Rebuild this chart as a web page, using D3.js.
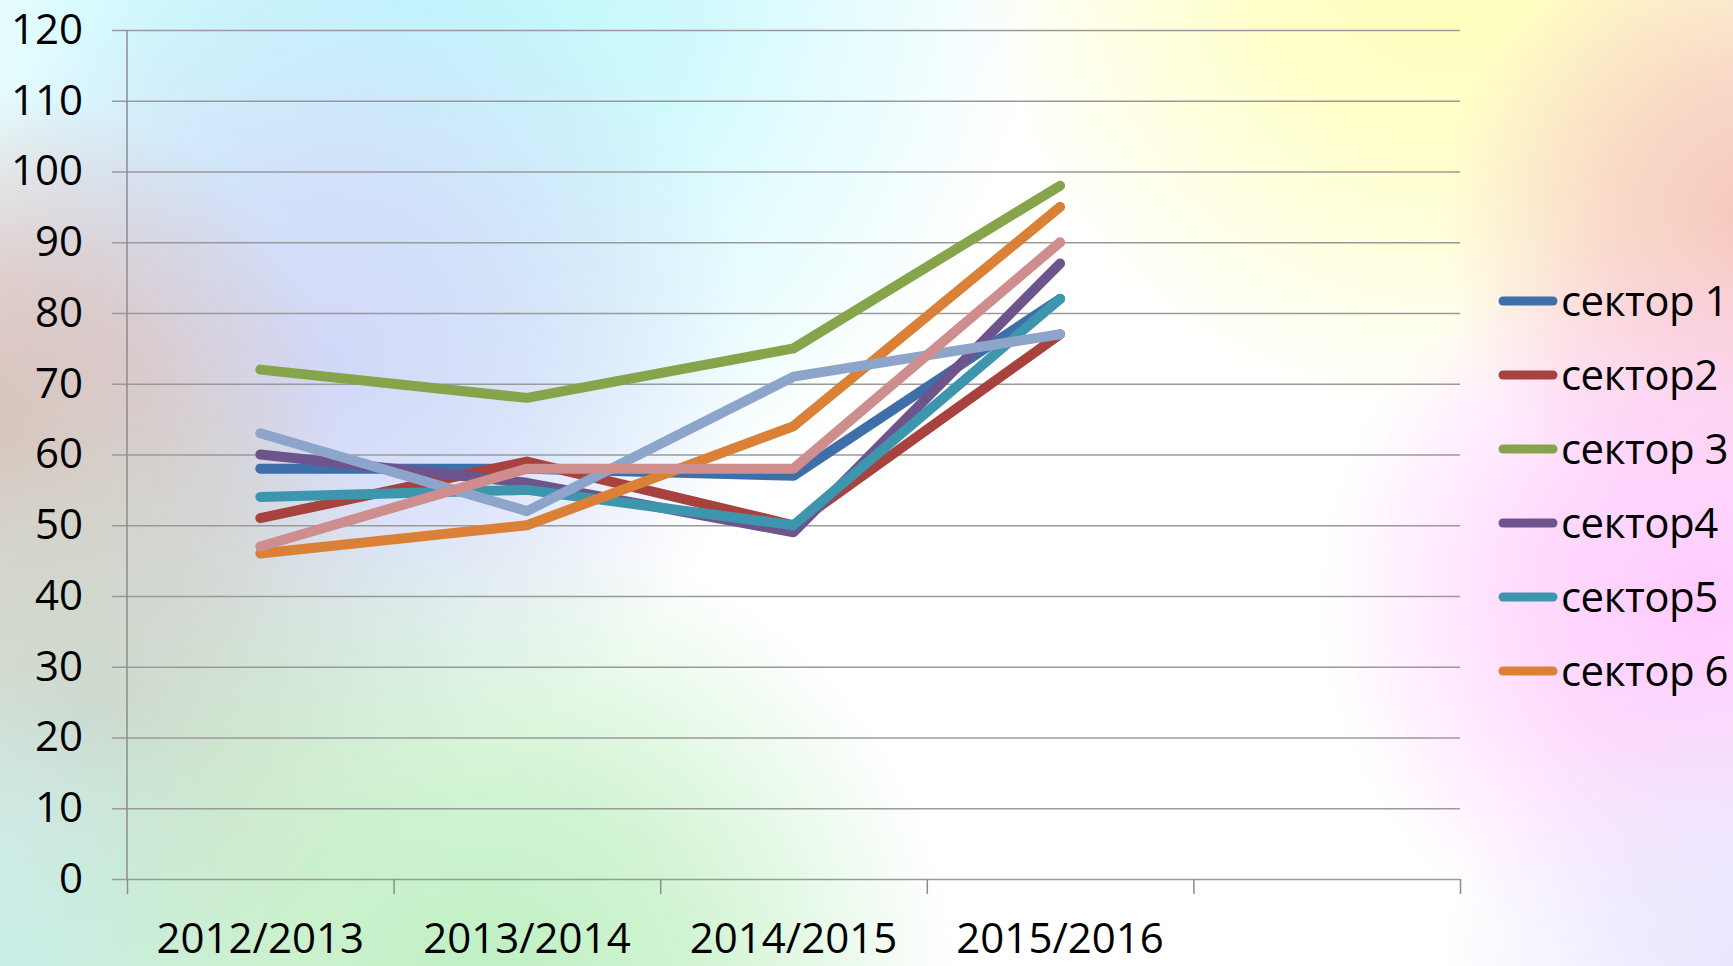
<!DOCTYPE html>
<html>
<head>
<meta charset="utf-8">
<script src="https://cdn.jsdelivr.net/npm/d3@7"></script>
<style>
  body { margin: 0; overflow: hidden; }
  text { font-family: "Open Sans", "Noto Sans", sans-serif; fill: #000; }
</style>
</head>
<body>
<div id="chart"></div>
<script>
// chart data
var years = ['2012/2013', '2013/2014', '2014/2015', '2015/2016', ''];
var seriesNames = ['сектор 1', 'сектор2', 'сектор 3', 'сектор4', 'сектор5', 'сектор 6', 'Ряд 7', 'Ряд 8'];
var sector1 = [58, 58, 57, 82];
var sector2 = [51, 59, 50, 77];
var sector3 = [72, 68, 75, 98];
var sector4 = [60, 56, 49, 87];
var sector5 = [54, 55, 50, 82];
var sector6 = [46, 50, 64, 95];
var series7 = [63, 52, 71, 77];
var series8 = [47, 58, 58, 90];
var legendCount = 6;
var yTicks = [0, 10, 20, 30, 40, 50, 60, 70, 80, 90, 100, 110, 120];
var colors = ['#3f6fa8', '#a8423f', '#86a44a', '#6e548d', '#3d96ae', '#da8137', '#8ea5cb', '#ce8e8d'];

var allSeries = [sector1, sector2, sector3, sector4, sector5, sector6, series7, series8];

// svg space
var fullWidth = 1733;
var fullHeight = 966;
var margin = {top: 30, right: 273, bottom: 87, left: 127};
var width = fullWidth - margin.left - margin.right;
var height = fullHeight - margin.top - margin.bottom;

var svg = d3.select('#chart')
  .append('svg')
  .attr('width', fullWidth)
  .attr('height', fullHeight);

// background: white with soft colour blotches
var defs = svg.append('defs');
var blotches = [
  {cx: 420, cy: -40, r: 620, c: '#bcf7fc'},
  {cx: 330, cy: 360, r: 420, c: '#d2d8f8'},
  {cx: 0, cy: 430, r: 340, c: '#d9bfb9'},
  {cx: 90, cy: 720, r: 380, c: '#cdd8cc'},
  {cx: 0, cy: 966, r: 300, c: '#c8ede8'},
  {cx: 480, cy: 1000, r: 480, c: '#bdefc0'},
  {cx: 1450, cy: -60, r: 480, c: '#ffffb8'},
  {cx: 1760, cy: 220, r: 320, c: '#f6c8bc'},
  {cx: 1700, cy: 600, r: 380, c: '#ffcbfd'},
  {cx: 1760, cy: 980, r: 320, c: '#e8e6ff'}
];
svg.append('rect')
  .attr('width', fullWidth)
  .attr('height', fullHeight)
  .attr('fill', '#ffffff');
blotches.forEach(function(b, i) {
  var grad = defs.append('radialGradient')
    .attr('id', 'bg' + i)
    .attr('gradientUnits', 'userSpaceOnUse')
    .attr('cx', b.cx).attr('cy', b.cy).attr('r', b.r);
  grad.append('stop').attr('offset', '0%').attr('stop-color', b.c).attr('stop-opacity', 1);
  grad.append('stop').attr('offset', '45%').attr('stop-color', b.c).attr('stop-opacity', 0.7);
  grad.append('stop').attr('offset', '100%').attr('stop-color', b.c).attr('stop-opacity', 0);
  svg.append('rect')
    .attr('width', fullWidth)
    .attr('height', fullHeight)
    .attr('fill', 'url(#bg' + i + ')');
});

var g = svg.append('g')
  .attr('transform', 'translate(' + margin.left + ',' + margin.top + ')');

// scales
var x = d3.scaleBand().domain(years).range([0, width]);
var xEdge = d3.scaleLinear().domain([0, years.length]).range([0, width]);
var y = d3.scaleLinear().domain([0, 120]).range([height, 0]);

// gridlines, sticking out 15px left of the axis
var grid = g.append('g')
  .attr('transform', 'translate(-15,0)')
  .call(d3.axisRight(y).tickValues(yTicks).tickSize(width + 15).tickFormat(''));
grid.select('.domain').remove();
grid.selectAll('line').attr('stroke', '#9a9a9a').attr('stroke-width', 1.5);

// y labels
var yAxis = g.append('g')
  .call(d3.axisLeft(y).tickValues(yTicks).tickSize(0).tickPadding(44));
yAxis.select('.domain').remove();
yAxis.selectAll('text').style('font-size', '42px');

// vertical axis line
g.append('line')
  .attr('x1', 0).attr('x2', 0)
  .attr('y1', y(120)).attr('y2', height)
  .attr('stroke', '#8c8c8c').attr('stroke-width', 1.5);

// x axis tick marks at category edges
var xTicks = g.append('g')
  .attr('transform', 'translate(0,' + height + ')')
  .call(d3.axisBottom(xEdge).ticks(years.length).tickSize(15).tickFormat(''));
xTicks.select('.domain').remove();
xTicks.selectAll('line').attr('stroke', '#8c8c8c').attr('stroke-width', 1.5);

// x labels
var xAxis = g.append('g')
  .attr('transform', 'translate(0,' + height + ')')
  .call(d3.axisBottom(x).tickSize(0));
xAxis.select('.domain').remove();
xAxis.selectAll('text')
  .attr('y', 74)
  .attr('dy', null)
  .style('font-size', '42px');

// lines
var line = d3.line()
  .x(function(d, i) { return x(years[i]) + x.bandwidth() / 2; })
  .y(function(d) { return y(d); });

g.selectAll('.series')
  .data(allSeries)
  .enter()
  .append('path')
  .attr('class', 'series')
  .attr('d', line)
  .attr('fill', 'none')
  .attr('stroke', function(d, i) { return colors[i]; })
  .attr('stroke-width', 10)
  .attr('stroke-linecap', 'round')
  .attr('stroke-linejoin', 'round');

// legend
var legend = svg.append('g')
  .attr('transform', 'translate(1499,301)');
var items = legend.selectAll('.item')
  .data(seriesNames.slice(0, legendCount))
  .enter()
  .append('g')
  .attr('class', 'item')
  .attr('transform', function(d, i) { return 'translate(0,' + (i * 74) + ')'; });
items.append('line')
  .attr('x1', 4).attr('x2', 54)
  .attr('stroke', function(d, i) { return colors[i]; })
  .attr('stroke-width', 9)
  .attr('stroke-linecap', 'round');
items.append('text')
  .attr('x', 62)
  .attr('dy', '0.35em')
  .style('font-size', '42px')
  .style('letter-spacing', '-0.5px')
  .text(function(d) { return d; });
</script>
</body>
</html>
